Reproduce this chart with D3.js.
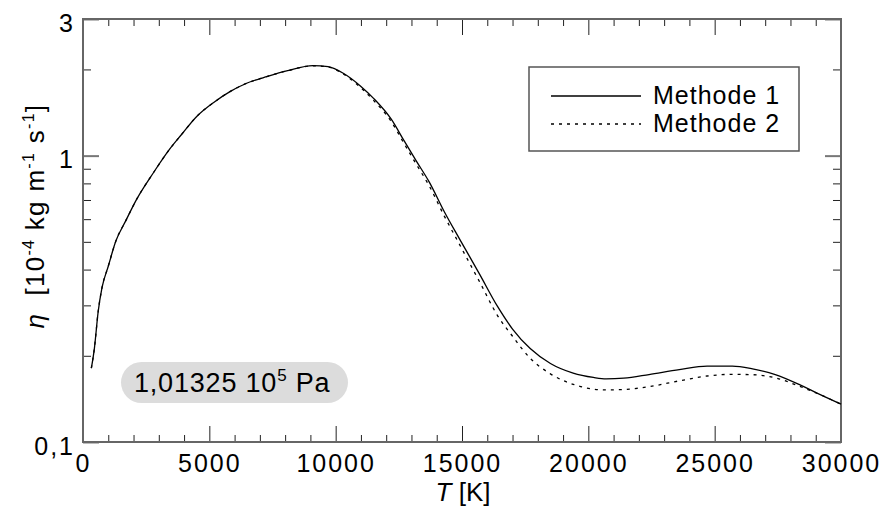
<!DOCTYPE html>
<html><head><meta charset="utf-8">
<script src="https://cdn.jsdelivr.net/npm/d3@7"></script>
<style>body{margin:0;background:#fff} text{font-family:"Liberation Sans",Arial,Helvetica,sans-serif;fill:#000}</style>
</head><body><svg id="c" width="882" height="506"></svg>
<script>
// ---- data ----
const temps   = [330, 450, 600, 750, 1000, 1300, 1700, 2100, 2800, 3400, 3900, 4500, 5200, 5800, 6500, 7300, 8100, 9100, 9700, 10300, 11000, 11500, 12200, 12700, 13200, 13700, 14300, 14900, 15700, 16400, 17000, 17700, 18500, 19400, 20200, 20700, 21400, 22400, 23600, 24700, 25700, 26500, 27400, 28400, 29200, 30000];
const method1 = [0.181, 0.212, 0.285, 0.345, 0.411, 0.503, 0.594, 0.698, 0.875, 1.045, 1.185, 1.370, 1.540, 1.670, 1.793, 1.891, 1.980, 2.062, 2.044, 1.940, 1.745, 1.585, 1.340, 1.130, 0.955, 0.810, 0.637, 0.512, 0.385, 0.298, 0.248, 0.212, 0.188, 0.174, 0.168, 0.166, 0.167, 0.172, 0.179, 0.184, 0.184, 0.180, 0.172, 0.158, 0.146, 0.1355];
const method2 = [0.181, 0.212, 0.285, 0.345, 0.411, 0.503, 0.594, 0.698, 0.875, 1.045, 1.185, 1.370, 1.540, 1.670, 1.793, 1.891, 1.980, 2.060, 2.038, 1.930, 1.725, 1.560, 1.315, 1.105, 0.930, 0.785, 0.615, 0.490, 0.362, 0.277, 0.234, 0.196, 0.173, 0.159, 0.153, 0.152, 0.1525, 0.156, 0.1635, 0.170, 0.1723, 0.1718, 0.1675, 0.156, 0.146, 0.1355];
const seriesNames = ["Methode 1", "Methode 2"];
const xMajorTicks = [0, 5000, 10000, 15000, 20000, 25000, 30000];
const xMinorTicks = [1000, 2000, 3000, 4000, 6000, 7000, 8000, 9000, 11000, 12000, 13000, 14000, 16000, 17000, 18000, 19000, 21000, 22000, 23000, 24000, 26000, 27000, 28000, 29000];
const yMajorTicks = [0.1, 1, 3];
const yMajorLabels = ["0,1", "1", "3"];
const yMinorTicks = [0.2, 0.3, 0.4, 0.5, 0.6, 0.7, 0.8, 0.9, 2];
const pressureLabel = ["1,01325 10", "5", " Pa"];

// ---- layout ----
const L = 83, R = 841, T = 19, B = 442;
const svg = d3.select("#c");
const x = d3.scaleLinear().domain([0, 30000]).range([L, R]);
const y = d3.scaleLog().domain([0.1, 3]).range([B, T]);

// ticks (inward) on all four sides
function tickAxis(axisFn, scale, vals, size, tr, color, width) {
  const g = svg.append("g").attr("transform", tr)
    .call(axisFn(scale).tickValues(vals).tickSize(size).tickFormat(""));
  g.select(".domain").remove();
  g.selectAll("line").attr("stroke", color).attr("stroke-width", width);
  return g;
}
tickAxis(d3.axisBottom, x, xMinorTicks, -7, `translate(0,${B})`, "#222", 1);
tickAxis(d3.axisBottom, x, xMajorTicks, -16, `translate(0,${B})`, "#222", 1);
tickAxis(d3.axisTop, x, xMinorTicks, -7, `translate(0,${T})`, "#222", 1);
tickAxis(d3.axisTop, x, xMajorTicks, -16, `translate(0,${T})`, "#222", 1);
tickAxis(d3.axisLeft, y, yMinorTicks, -8, `translate(${L},0)`, "#222", 1);
tickAxis(d3.axisLeft, y, yMajorTicks, -16, `translate(${L},0)`, "#777", 2);
tickAxis(d3.axisRight, y, yMinorTicks, -8, `translate(${R},0)`, "#222", 1);
tickAxis(d3.axisRight, y, yMajorTicks, -16, `translate(${R},0)`, "#777", 2);

// frame
svg.append("rect").attr("x", x(0)).attr("y", y(3))
  .attr("width", x(30000) - x(0)).attr("height", y(0.1) - y(3))
  .attr("fill", "none").attr("stroke", "#666").attr("stroke-width", 2);

// tick labels
const xl = svg.append("g").attr("transform", `translate(0,${B})`)
  .call(d3.axisBottom(x).tickValues(xMajorTicks).tickSize(0).tickFormat(d => String(d)));
xl.select(".domain").remove();
xl.selectAll("text").attr("y", 30).attr("dy", 0)
  .style("font-size", "25px").style("letter-spacing", "2px").attr("fill", "#000");

const yl = svg.append("g").attr("transform", `translate(${L},0)`)
  .call(d3.axisLeft(y).tickValues(yMajorTicks).tickSize(0).tickFormat((d, i) => yMajorLabels[i]));
yl.select(".domain").remove();
yl.selectAll("text").attr("x", -8).attr("dy", 12)
  .style("font-size", "25px").style("letter-spacing", "2px").attr("fill", "#000");

// curves
const line = d3.line().x((d, i) => x(temps[i])).y(d => y(d)).curve(d3.curveMonotoneX);
svg.append("path").datum(method1).attr("d", line)
  .attr("fill", "none").attr("stroke", "#000").attr("stroke-width", 1.3);
svg.append("path").datum(method2).attr("d", line)
  .attr("fill", "none").attr("stroke", "#000").attr("stroke-width", 1.3)
  .attr("stroke-dasharray", "3,5");

// legend
const lg = svg.append("g");
lg.append("rect").attr("x", 529).attr("y", 67).attr("width", 270).attr("height", 84)
  .attr("fill", "#fff").attr("stroke", "#555").attr("stroke-width", 1.5);
seriesNames.forEach((n, i) => {
  const yy = 96 + i * 28;
  lg.append("line").attr("x1", 551).attr("x2", 641).attr("y1", yy).attr("y2", yy)
    .attr("stroke", "#000").attr("stroke-width", 1.3)
    .attr("stroke-dasharray", i === 1 ? "3,5" : null);
  lg.append("text").attr("x", 653).attr("y", yy + 7.5)
    .style("font-size", "25px").style("letter-spacing", "1px").text(n);
});

// pressure pill
svg.append("rect").attr("x", 121).attr("y", 362).attr("width", 227).attr("height", 41)
  .attr("rx", 20.5).attr("fill", "#dcdcdc");
const pt = svg.append("text").attr("x", 134).attr("y", 392)
  .style("font-size", "27px").style("letter-spacing", "0.8px");
pt.append("tspan").text(pressureLabel[0]);
pt.append("tspan").attr("dy", -11).style("font-size", "17px").text(pressureLabel[1]);
pt.append("tspan").attr("dy", 11).text(pressureLabel[2]);

// axis titles
const xt = svg.append("text").attr("x", 463).attr("y", 501)
  .attr("text-anchor", "middle").style("font-size", "26px");
xt.append("tspan").style("font-style", "italic").text("T");
xt.append("tspan").text("\u00a0[K]");

const yt = svg.append("text").attr("transform", "translate(44,216) rotate(-90)")
  .attr("text-anchor", "middle").style("font-size", "26px").style("letter-spacing", "1.3px");
yt.append("tspan").style("font-style", "italic").text("η");
yt.append("tspan").text("\u00a0\u00a0[10");
yt.append("tspan").attr("dy", -10).style("font-size", "16px").text("-4");
yt.append("tspan").attr("dy", 10).text("\u00a0kg m");
yt.append("tspan").attr("dy", -10).style("font-size", "16px").text("-1");
yt.append("tspan").attr("dy", 10).text("\u00a0s");
yt.append("tspan").attr("dy", -10).style("font-size", "16px").text("-1");
yt.append("tspan").attr("dy", 10).text("]");
</script></body></html>
